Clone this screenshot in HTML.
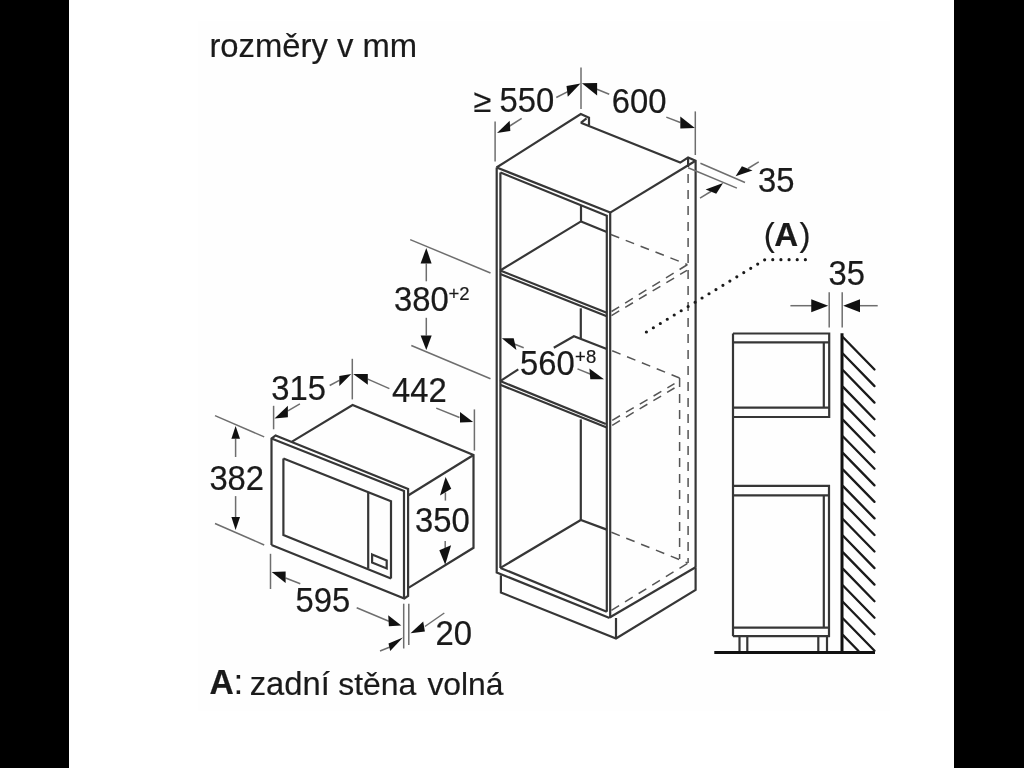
<!DOCTYPE html>
<html><head><meta charset="utf-8">
<style>
html,body{margin:0;padding:0;background:#000;width:1024px;height:768px;overflow:hidden}
svg{display:block;will-change:transform}
text{font-family:"Liberation Sans",sans-serif;fill:#1a1a1a;stroke:#1a1a1a;stroke-width:0.2}
.o{stroke:#363636;stroke-width:2.2;fill:none;stroke-linejoin:miter;stroke-linecap:butt}
.d{stroke:#6e6e6e;stroke-width:1.5;fill:none}
.h{stroke:#555;stroke-width:1.5;fill:none;stroke-dasharray:9 7}
.a{fill:#111;stroke:none}
.t{font-size:33px}
</style></head><body>
<svg width="1024" height="768" viewBox="0 0 1024 768">
<rect x="0" y="0" width="1024" height="768" fill="#000"/>
<rect x="69" y="0" width="885" height="768" fill="#fff"/>
<rect x="198" y="21" width="692" height="690" fill="#fdfdfd" opacity="0.6"/>

<g>
<!-- ===== TEXT ===== -->
<text x="209.4" y="57" font-size="32.8">rozměry v mm</text>
<text x="473.4" y="112.0" font-size="32.5">≥</text>
<text x="499.6" y="0" font-size="32.8" transform="translate(0,112.3) scale(1,1.05)">550</text>
<text x="611.8" y="0" font-size="32.8" transform="translate(0,112.8) scale(1,1.05)">600</text>
<text x="758.1" y="0" font-size="32.8" transform="translate(0,192.0) scale(1,1.05)">35</text>
<text x="763.7" y="245.8" font-size="33.09">(<tspan font-weight="bold" dx="-0.4">A</tspan><tspan dx="1.4">)</tspan></text>
<text x="828.6" y="0" font-size="32.8" transform="translate(0,284.9) scale(1,1.05)">35</text>
<text x="394.0" y="0" font-size="32.8" transform="translate(0,311.2) scale(1,1.05)">380</text>
<text x="448.5" y="299.5" font-size="18.5">+2</text>
<text x="520.1" y="0" font-size="32.8" transform="translate(0,375.2) scale(1,1.05)">560</text>
<text x="575.1" y="362.8" font-size="18.5">+8</text>
<text x="271.2" y="0" font-size="32.8" transform="translate(0,400.1) scale(1,1.05)">315</text>
<text x="392.0" y="0" font-size="32.8" transform="translate(0,402.1) scale(1,1.05)">442</text>
<text x="209.4" y="0" font-size="32.8" transform="translate(0,489.5) scale(1,1.05)">382</text>
<text x="415.0" y="0" font-size="32.8" transform="translate(0,532.2) scale(1,1.05)">350</text>
<text x="295.5" y="0" font-size="32.8" transform="translate(0,612.0) scale(1,1.05)">595</text>
<text x="435.6" y="0" font-size="32.8" transform="translate(0,645.1) scale(1,1.05)">20</text>
<text x="209.4" y="0" font-size="33.6" transform="translate(0,694.3) scale(1,1.03)"><tspan font-weight="bold">A</tspan>:</text>
<text x="249.7" y="694.7" font-size="32.74">zadní</text>
<text x="338.2" y="694.7" font-size="31.92">stěna</text>
<text x="427.4" y="694.7" font-size="31.83">volná</text>

<!-- ===== TALL CABINET ===== -->
<g class="o">
  <!-- top face -->
  <polyline points="496.5,167.5 580.8,114.1 589,117.7 589,125.3"/>
  <polyline points="580.8,122.8 586.5,118.3"/>
  <polyline points="580.8,122.8 680.2,162.6 688.1,157.6 695.6,160.8 695.6,567.2"/>
  <polyline points="688.1,157.6 688.1,167"/>
  <polyline points="610.2,212.6 695.6,160.8"/>
  <!-- left panel -->
  <polyline points="496.7,167.5 496.7,572.5 609.6,618"/>
  <polyline points="500.4,172.5 500.4,567.9"/>
  <!-- top panel front -->
  <polyline points="496.7,167.5 610.2,212.6 610.2,618"/>
  <polyline points="500.4,172.5 606.8,215.7 606.8,611.7"/>
  <!-- shelf 1 -->
  <polyline points="500.2,270.5 606.8,312.7"/>
  <polyline points="500.2,274 606.8,316.2"/>
  <polyline points="500.2,270.5 581,221.4 606.8,231.9"/>
  <polyline points="581,206 581,221.4"/>
  <polyline points="580.8,308.3 580.8,338.6"/>
  <!-- shelf 2 -->
  <polyline points="500.2,381.1 605.8,424"/>
  <polyline points="500.2,384.8 606.8,427.6"/>
  <polyline points="500.2,381.1 518.3,369.3"/>
  <polyline points="553.8,347.8 573.9,336.2 606.8,349"/>
  <polyline points="580.8,419.4 580.8,520"/>
  <!-- bottom -->
  <polyline points="500.4,567.9 606.8,611.7"/>
  <polyline points="500.4,567.9 580.8,520 606.8,529.6"/>
  <!-- plinth -->
  <polyline points="500.9,575.2 500.9,592.5 616,638.5 695.6,590 695.6,567.2"/>
  <polyline points="616,618 616,638.5"/>
  <polyline points="609.6,617.5 695.6,567.2"/>
</g>
<g class="h">
  <line x1="688.1" y1="174" x2="688.1" y2="563"/>
  <line x1="679.6" y1="378" x2="679.6" y2="559"/>
  <line x1="610.8" y1="234.5" x2="687.5" y2="264.6"/>
  <line x1="611.5" y1="311.5" x2="687.5" y2="264.6"/>
  <line x1="611.5" y1="315.6" x2="687" y2="270.3"/>
  <line x1="612.2" y1="350.8" x2="679.6" y2="378"/>
  <line x1="612.2" y1="420.3" x2="674.5" y2="383.7"/>
  <line x1="612.2" y1="425.3" x2="674.5" y2="388"/>
  <line x1="611.4" y1="532.2" x2="687.9" y2="563.1"/>
  <line x1="611.4" y1="610.3" x2="687.9" y2="563.1"/>
</g>

<!-- cabinet dims -->
<g class="d">
  <line x1="581" y1="67.6" x2="581" y2="108.9"/>
  <line x1="495.1" y1="121.4" x2="495.1" y2="161.4"/>
  <line x1="695.3" y1="111.4" x2="695.3" y2="155"/>
  <line x1="567.8" y1="91.7" x2="556.3" y2="97.5"/>
  <line x1="509.7" y1="126" x2="521.7" y2="118.3"/>
  <line x1="597" y1="89.2" x2="609.2" y2="94.3"/>
  <line x1="666.3" y1="117.1" x2="680.3" y2="122.5"/>
  <line x1="700.4" y1="163.2" x2="745" y2="182.5"/>
  <line x1="688.1" y1="167.8" x2="736.9" y2="188.1"/>
  <line x1="748" y1="168.5" x2="758.75" y2="161.9"/>
  <line x1="700" y1="198.1" x2="711.25" y2="191.25"/>
  <!-- 380 -->
  <line x1="410.2" y1="239.6" x2="490.5" y2="273"/>
  <line x1="411.3" y1="345.5" x2="490.5" y2="378.8"/>
  <line x1="426.3" y1="263.6" x2="426.3" y2="281.3"/>
  <line x1="426.3" y1="317.8" x2="426.3" y2="335.5"/>
  <!-- 560 -->
  <line x1="513" y1="343.5" x2="523.7" y2="347.8"/>
  <line x1="577.5" y1="368.9" x2="592" y2="374.8"/>
</g>
<g class="a">
  <polygon points="580.5,83.5 566.5,86 567.8,96.8"/>
  <polygon points="581.9,83.3 597.1,82.9 597.1,95.5"/>
  <polygon points="497,132.9 509.7,120.8 510.3,131"/>
  <polygon points="694.9,127.9 680.3,116.5 680.3,128.6"/>
  <polygon points="735.6,176.25 741.9,166.25 752.5,170.6"/>
  <polygon points="723.1,183.1 705.6,189.4 716.25,193.75"/>
  <polygon points="426.3,247.9 420.6,263.6 431.6,263.6"/>
  <polygon points="426.3,350.1 420.6,335.5 431.7,335.5"/>
  <polygon points="501.9,338.3 513.7,338.3 516.4,350.1"/>
  <polygon points="604,379.3 589.4,368.4 590.3,379.3"/>
</g>
<!-- dotted leader -->
<polyline points="646.4,332 764.8,259.7 806,259.7" fill="none" stroke="#1a1a1a" stroke-width="3.2" stroke-linecap="round" stroke-dasharray="0 8.15"/>

<!-- ===== SIDE SECTION ===== -->
<g class="o">
  <polyline points="733,333.5 829.2,333.5 829.2,417 733,417"/>
  <line x1="733" y1="333.5" x2="733" y2="636.2"/>
  <line x1="733" y1="342.3" x2="829.2" y2="342.3"/>
  <line x1="823.8" y1="342.3" x2="823.8" y2="407.6"/>
  <line x1="733" y1="407.6" x2="829.2" y2="407.6"/>
  <polyline points="733,485.8 829,485.8 829,636.2 733,636.2"/>
  <line x1="733" y1="495.3" x2="829" y2="495.3"/>
  <line x1="823.8" y1="495.3" x2="823.8" y2="627.6"/>
  <line x1="733" y1="627.6" x2="829" y2="627.6"/>
  <polyline points="739.5,636.2 739.5,652"/>
  <polyline points="747.3,636.2 747.3,652"/>
  <polyline points="818.3,636.2 818.3,652"/>
  <polyline points="827,636.2 827,652"/>
</g>
<line x1="842" y1="333.3" x2="842" y2="652" stroke="#111" stroke-width="3"/>
<line x1="714.3" y1="652.5" x2="875" y2="652.5" stroke="#111" stroke-width="3"/>
<g id="hatch" stroke="#1a1a1a" stroke-width="2.3" stroke-linecap="round">
<line x1="843" y1="337.2" x2="874.5" y2="369.5"/>
<line x1="843" y1="353.8" x2="874.5" y2="386.1"/>
<line x1="843" y1="370.3" x2="874.5" y2="402.6"/>
<line x1="843" y1="386.9" x2="874.5" y2="419.2"/>
<line x1="843" y1="403.4" x2="874.5" y2="435.7"/>
<line x1="843" y1="419.9" x2="874.5" y2="452.2"/>
<line x1="843" y1="436.5" x2="874.5" y2="468.8"/>
<line x1="843" y1="453.1" x2="874.5" y2="485.4"/>
<line x1="843" y1="469.6" x2="874.5" y2="501.9"/>
<line x1="843" y1="486.1" x2="874.5" y2="518.4"/>
<line x1="843" y1="502.7" x2="874.5" y2="535.0"/>
<line x1="843" y1="519.2" x2="874.5" y2="551.5"/>
<line x1="843" y1="535.8" x2="874.5" y2="568.1"/>
<line x1="843" y1="552.4" x2="874.5" y2="584.6"/>
<line x1="843" y1="568.9" x2="874.5" y2="601.2"/>
<line x1="843" y1="585.5" x2="874.5" y2="617.8"/>
<line x1="843" y1="602.0" x2="874.5" y2="634.3"/>
<line x1="843" y1="618.5" x2="874.5" y2="650.8"/>
<line x1="843" y1="635.1" x2="858.5" y2="651.0"/>
</g>
<g class="d">
  <line x1="829.2" y1="292.3" x2="829.2" y2="327.5"/>
  <line x1="842.2" y1="292.3" x2="842.2" y2="327.5"/>
  <line x1="790.4" y1="305.7" x2="812" y2="305.7"/>
  <line x1="859" y1="305.7" x2="877.7" y2="305.7"/>
</g>
<g class="a">
  <polygon points="828.2,305.7 811.25,299.2 811.25,312.2"/>
  <polygon points="843.2,305.7 860,299.2 860,312.2"/>
</g>

<!-- ===== MICROWAVE ===== -->
<g class="o">
  <!-- frame -->
  <polyline points="271.5,545 271.5,438.6 275.6,435.4 408.1,489 408.1,596 404.3,598.5 271.5,545"/>
  <polyline points="271.5,438.6 404,491 404,598.5"/>
  <!-- window -->
  <polyline points="283.4,458.6 391,501.3 391,578.5"/>
  <polyline points="283.4,458.6 283.4,535 391,578.5"/>
  <line x1="368.2" y1="492.3" x2="368.2" y2="568.5"/>
  <polygon points="372.1,554.5 386.7,560.4 386.7,568.4 372.1,562.6"/>
  <!-- body -->
  <polyline points="292,441.6 352.6,405.1 473.5,455 473.5,547.8 408.8,587.6"/>
  <line x1="408.1" y1="495.5" x2="473.5" y2="455"/>
</g>
<g class="d">
  <line x1="352.3" y1="358.8" x2="352.3" y2="399.4"/>
  <line x1="329.7" y1="385.5" x2="339.3" y2="380.4"/>
  <line x1="367.8" y1="379.1" x2="389.4" y2="388.6"/>
  <line x1="273.6" y1="405.8" x2="273.6" y2="429.3"/>
  <line x1="287.9" y1="410.9" x2="299.9" y2="403.9"/>
  <line x1="474.4" y1="409.4" x2="474.4" y2="450.6"/>
  <line x1="436.25" y1="408.1" x2="459.5" y2="417.5"/>
  <!-- 382 -->
  <line x1="215" y1="415.6" x2="264.2" y2="436.9"/>
  <line x1="215" y1="523.5" x2="264.2" y2="545"/>
  <line x1="235.6" y1="438.7" x2="235.6" y2="457"/>
  <line x1="235.6" y1="496.1" x2="235.6" y2="517.1"/>
  <!-- 350 -->
  <line x1="445.4" y1="492.5" x2="445.4" y2="500.6"/>
  <line x1="445.2" y1="541" x2="445.2" y2="550"/>
  <!-- 595 -->
  <line x1="270.5" y1="553.8" x2="270.5" y2="589"/>
  <line x1="285.6" y1="578" x2="300.3" y2="583.8"/>
  <line x1="356.7" y1="607.7" x2="388.9" y2="621.2"/>
  <!-- 20 -->
  <line x1="403.7" y1="603.7" x2="403.7" y2="648.5"/>
  <line x1="408.8" y1="603.7" x2="408.8" y2="645"/>
  <line x1="424.9" y1="626.5" x2="444.3" y2="613"/>
  <line x1="380" y1="651" x2="390" y2="647"/>
</g>
<g class="a">
  <polygon points="351.3,374 339.3,376 339.3,386.1"/>
  <polygon points="353.2,374 367.8,374 367.8,384.8"/>
  <polygon points="274.5,418.5 287.9,405.8 287.9,417.2"/>
  <polygon points="473.1,421.9 460,411.9 460,422.5"/>
  <polygon points="235.6,426 231.4,438.7 240,438.7"/>
  <polygon points="235.6,529.9 231.4,517.1 240,517.1"/>
  <polygon points="445.6,476.9 440,495.6 451.25,488.75"/>
  <polygon points="445.2,564.7 439.3,550.3 451.1,545.2"/>
  <polygon points="271.7,572.1 285.6,571.4 285.6,583.1"/>
  <polygon points="401.3,625.6 388.2,615.3 388.9,626.3"/>
  <polygon points="402.9,637.5 388.5,643.4 390.2,651"/>
  <polygon points="410.5,633.3 423.2,621.4 424.9,631.6"/>
</g>
</g>
</svg>
</body></html>
